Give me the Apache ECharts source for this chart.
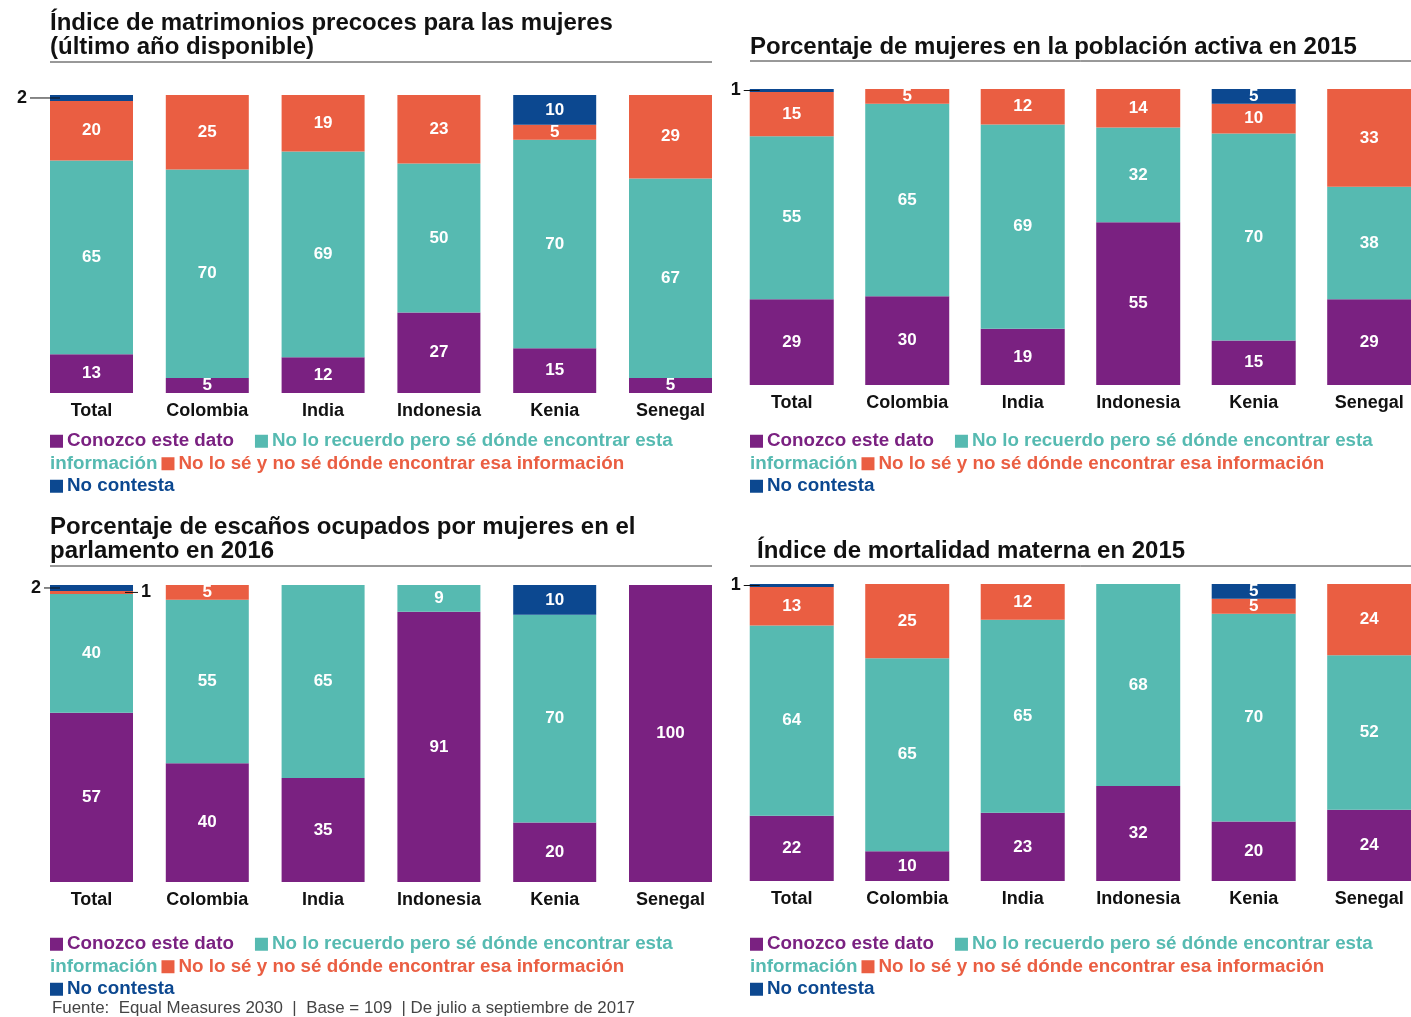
<!DOCTYPE html>
<html>
<head>
<meta charset="utf-8">
<script src="https://cdn.jsdelivr.net/npm/echarts@6/dist/echarts.min.js"></script>
<style>html,body{margin:0;padding:0;background:#fff;}#c{width:1411px;height:1017px;}</style>
</head>
<body>
<div id="c"></div>
<script>
// ---- data ----
const categories = ['Total', 'Colombia', 'India', 'Indonesia', 'Kenia', 'Senegal'];
const seriesNames = ['Conozco este dato', 'No lo recuerdo pero sé dónde encontrar esta información', 'No lo sé y no sé dónde encontrar esa información', 'No contesta'];

// Panel 1: Índice de matrimonios precoces
const p1Conozco   = [13, 5, 12, 27, 15, 5];
const p1Recuerdo  = [65, 70, 69, 50, 70, 67];
const p1NoSe      = [20, 25, 19, 23, 5, 29];
const p1NoContesta= [2, 0, 0, 0, 10, 0];

// Panel 2: Porcentaje de mujeres en la población activa en 2015
const p2Conozco   = [29, 30, 19, 55, 15, 29];
const p2Recuerdo  = [55, 65, 69, 32, 70, 38];
const p2NoSe      = [15, 5, 12, 14, 10, 33];
const p2NoContesta= [1, 0, 0, 0, 5, 0];

// Panel 3: Porcentaje de escaños ocupados por mujeres en el parlamento en 2016
const p3Conozco   = [57, 40, 35, 91, 20, 100];
const p3Recuerdo  = [40, 55, 65, 9, 70, 0];
const p3NoSe      = [1, 5, 0, 0, 0, 0];
const p3NoContesta= [2, 0, 0, 0, 10, 0];

// Panel 4: Índice de mortalidad materna en 2015
const p4Conozco   = [22, 10, 23, 32, 20, 24];
const p4Recuerdo  = [64, 65, 65, 68, 70, 52];
const p4NoSe      = [13, 25, 12, 0, 5, 24];
const p4NoContesta= [1, 0, 0, 0, 5, 0];

const titles = [
  'Índice de matrimonios precoces para las mujeres\n(último año disponible)',
  'Porcentaje de mujeres en la población activa en 2015',
  'Porcentaje de escaños ocupados por mujeres en el\nparlamento en 2016',
  'Índice de mortalidad materna en 2015'
];
const sourceText = 'Fuente:  Equal Measures 2030  |  Base = 109  | De julio a septiembre de 2017';

// ---- styling ----
const colors = ['#7a2181', '#56bab1', '#ea5e42', '#0c4890'];
const FONT = '"Liberation Sans", Arial, Helvetica, sans-serif';
const LFS = 18.8; // legend font size

const panels = [
  { data: [p1Conozco, p1Recuerdo, p1NoSe, p1NoContesta], grid: {left: 33.6, top: 95, width: 694.8, height: 298}, xMax: 5.5, barWidth: 83, lead: 30, title: {x: 50, y: 11, line: 62, l0: 50, l1: 712}, legend: {x: 50, y: 430} },
  { data: [p2Conozco, p2Recuerdo, p2NoSe, p2NoContesta], grid: {left: 734, top: 89, width: 677, height: 296}, xMax: 5.336, barWidth: 84, lead: 16, title: {x: 750, y: 35, line: 61, l0: 750, l1: 1411}, legend: {x: 750, y: 430} },
  { data: [p3Conozco, p3Recuerdo, p3NoSe, p3NoContesta], grid: {left: 33.6, top: 585, width: 694.8, height: 297}, xMax: 5.5, barWidth: 83, lead: 16, title: {x: 50, y: 515, line: 566, l0: 50, l1: 712}, legend: {x: 50, y: 933} },
  { data: [p4Conozco, p4Recuerdo, p4NoSe, p4NoContesta], grid: {left: 734, top: 584, width: 677, height: 297}, xMax: 5.336, barWidth: 84, lead: 16, title: {x: 757, y: 539, line: 566, l0: 750, l1: 1411}, legend: {x: 750, y: 933} }
];

const grids = [], xAxes = [], yAxes = [], series = [], graphics = [];

panels.forEach((pn, pi) => {
  grids.push(Object.assign({containLabel: false}, pn.grid));
  xAxes.push({
    type: 'value', gridIndex: pi, min: -0.5, max: pn.xMax, interval: 0.5,
    splitLine: {show: false}, axisLine: {show: false}, axisTick: {show: false},
    axisLabel: {
      fontFamily: FONT, fontSize: 18, fontWeight: 'bold', color: '#111', margin: 9,
      formatter: v => (Math.abs(v - Math.round(v)) < 1e-6 && v >= 0 && v <= 5) ? categories[Math.round(v)] : ''
    }
  });
  yAxes.push({type: 'value', gridIndex: pi, min: 0, max: 100, show: false});
  pn.data.forEach((arr, si) => {
    // data rows are [value, categoryIndex]; value first so it is the stacked dimension
    const items = arr.map((v, i) => {
      if (v === 0) return {value: [v, i], label: {show: false}};
      if (v <= 2) {
        const left = (si === 3);
        return {
          value: [v, i],
          label: {
            show: true,
            position: left ? 'left' : 'right',
            distance: left ? -10 : -8,
            formatter: left ? '{n|' + v + '}{g| }{l| }' : '{l| }{g| }{n|' + v + '}',
            rich: {
              n: {fontFamily: FONT, fontSize: 18, fontWeight: 'bold', color: '#111'},
              g: {width: 3},
              l: {width: left ? pn.lead : 13, height: 1, backgroundColor: '#111'}
            }
          }
        };
      }
      return {value: [v, i]};
    });
    series.push({
      type: 'bar', name: seriesNames[si], stack: 'p' + pi,
      xAxisIndex: pi, yAxisIndex: pi, barWidth: pn.barWidth,
      encode: {x: 1, y: 0},
      data: items,
      itemStyle: {color: colors[si]},
      label: {show: true, position: 'inside', color: '#fff', fontFamily: FONT, fontSize: 17, fontWeight: 'bold',
              formatter: p => String(p.value[0])},
      emphasis: {disabled: true},
      animation: false
    });
  });

  // title
  graphics.push({
    type: 'text', left: pn.title.x, top: pn.title.y,
    style: {text: titles[pi], fill: '#111', font: 'bold 24px ' + FONT, lineHeight: 24}
  });
  graphics.push({
    type: 'line', shape: {x1: pn.title.l0, y1: pn.title.line, x2: pn.title.l1, y2: pn.title.line},
    style: {stroke: '#333', lineWidth: 1}
  });
  // legend
  const rs = c => ({fill: c, fontSize: LFS, fontWeight: 'bold', fontFamily: FONT, lineHeight: 22.5});
  graphics.push({
    type: 'text', left: pn.legend.x, top: pn.legend.y,
    style: {
      text: '{sp| }{g| }{p|' + seriesNames[0] + '}{w| }{st| }{g| }{t|No lo recuerdo pero sé dónde encontrar esta}\n' +
            '{t|información}{g| }{so| }{g| }{o|' + seriesNames[2] + '}\n' +
            '{sb| }{g| }{b|' + seriesNames[3] + '}',
      font: 'bold ' + LFS + 'px ' + FONT, lineHeight: 22.5,
      rich: {
        sp: {width: 13, height: 13, backgroundColor: colors[0]},
        st: {width: 13, height: 13, backgroundColor: colors[1]},
        so: {width: 13, height: 13, backgroundColor: colors[2]},
        sb: {width: 13, height: 13, backgroundColor: colors[3]},
        g: {width: 4},
        w: {width: 21},
        p: rs(colors[0]), t: rs(colors[1]), o: rs(colors[2]), b: rs(colors[3])
      }
    }
  });
});

graphics.push({
  type: 'text', left: 52, top: 1000,
  style: {text: sourceText, fill: '#444', font: '16.9px ' + FONT}
});

const chart = echarts.init(document.getElementById('c'), null, {renderer: 'canvas'});
chart.setOption({
  animation: false,
  textStyle: {fontFamily: FONT},
  grid: grids, xAxis: xAxes, yAxis: yAxes, series: series,
  graphic: graphics
});
</script>
</body>
</html>
